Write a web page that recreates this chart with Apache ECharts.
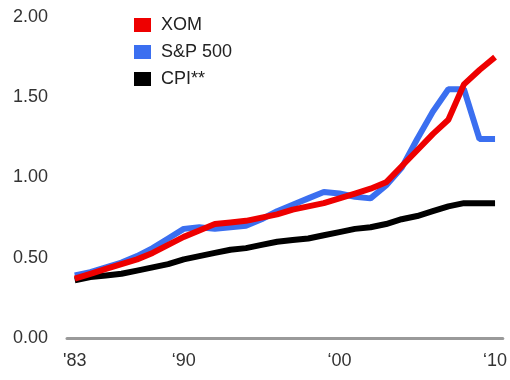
<!DOCTYPE html>
<html>
<head>
<meta charset="utf-8">
<script src="https://cdn.jsdelivr.net/npm/echarts@6/dist/echarts.min.js"></script>
<style>html,body{margin:0;padding:0;background:#fff}#c{width:510px;height:380px}</style>
</head>
<body>
<div id="c"></div>
<script>
const years = [1983,1984,1985,1986,1987,1988,1989,1990,1991,1992,1993,1994,1995,1996,1997,1998,1999,2000,2001,2002,2003,2004,2005,2006,2007,2008,2009,2010];
const xLabels = {1983: "'83", 1990: "\u201890", 2000: "\u201800", 2010: "\u201810"};
const xom = [0.37,0.40,0.43,0.46,0.49,0.53,0.58,0.63,0.67,0.71,0.72,0.73,0.75,0.77,0.80,0.82,0.84,0.87,0.90,0.93,0.97,1.07,1.17,1.27,1.36,1.58,1.67,1.75];
const sp500 = [0.39,0.41,0.44,0.47,0.51,0.56,0.62,0.68,0.69,0.68,0.69,0.70,0.74,0.79,0.83,0.87,0.91,0.90,0.88,0.87,0.95,1.06,1.24,1.41,1.55,1.55,1.24,1.24];
const cpi = [0.36,0.38,0.39,0.40,0.42,0.44,0.46,0.49,0.51,0.53,0.55,0.56,0.58,0.60,0.61,0.62,0.64,0.66,0.68,0.69,0.71,0.74,0.76,0.79,0.82,0.84,0.84,0.84];
const yTicks = [0, 0.5, 1, 1.5, 2];

const chart = echarts.init(document.getElementById('c'));
const font = 'Liberation Sans, Arial, sans-serif';
chart.setOption({
  animation: false,
  grid: {left: 67, right: 4, top: 17, bottom: 42},
  legend: {
    orient: 'vertical', left: 129, top: 11,
    data: ['XOM', 'S&P 500', 'CPI**'],
    icon: 'rect', itemWidth: 17, itemHeight: 14, itemGap: 9,
    textStyle: {fontSize: 18, color: '#222', fontFamily: font, padding: [0,0,0,5]}
  },
  xAxis: {
    type: 'category', data: years, boundaryGap: true,
    axisLine: {show: true, onZero: false, lineStyle: {color: '#9a9a9a', width: 3}},
    axisTick: {show: false},
    axisLabel: {
      interval: (i, v) => xLabels[v] !== undefined,
      formatter: v => xLabels[v] || '',
      fontSize: 18, color: '#333', fontFamily: font, margin: 14
    }
  },
  yAxis: {
    type: 'value', min: 0, max: 2, interval: 0.5,
    splitLine: {show: false},
    axisLine: {show: false}, axisTick: {show: false},
    axisLabel: {formatter: v => v.toFixed(2), fontSize: 18, color: '#333', fontFamily: font, margin: 19}
  },
  series: [
    {name: 'CPI**', type: 'line', data: cpi, symbol: 'none', itemStyle: {color: '#000'}, lineStyle: {width: 6, color: '#000'}},
    {name: 'S&P 500', type: 'line', data: sp500, symbol: 'none', itemStyle: {color: '#3b6ff0'}, lineStyle: {width: 6, color: '#3b6ff0'}},
    {name: 'XOM', type: 'line', data: xom, symbol: 'none', itemStyle: {color: '#ee0000'}, lineStyle: {width: 6, color: '#ee0000'}}
  ]
});
</script>
</body>
</html>
